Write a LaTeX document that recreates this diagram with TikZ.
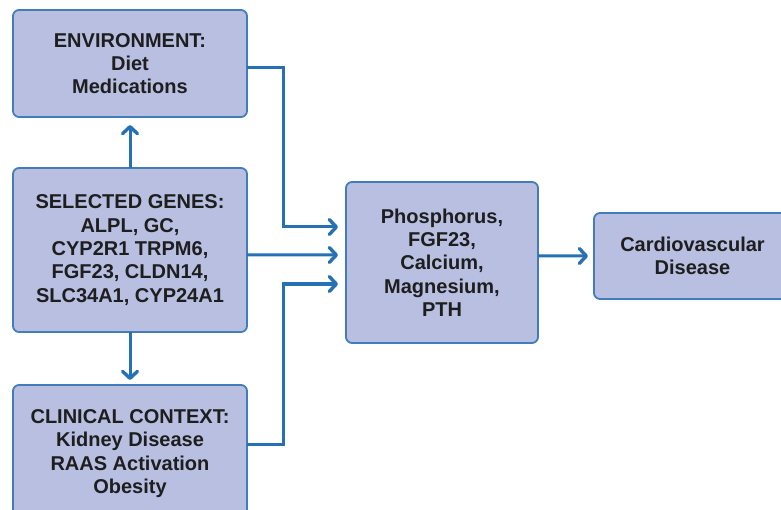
\documentclass[tikz,border=0pt]{standalone}
\usepackage{fontspec}
\setmainfont{Liberation Sans}
\usetikzlibrary{arrows.meta}
\definecolor{boxfill}{RGB}{184,191,225}
\definecolor{boxline}{RGB}{66,125,186}
\definecolor{arrowc}{RGB}{38,112,180}
\definecolor{txt}{RGB}{30,30,30}
\tikzset{
  box/.style={draw=boxline, line width=1.8bp, fill=boxfill, rounded corners=6bp,
    inner sep=0pt, outer sep=0pt, align=center, text=txt,
    font=\bfseries\fontsize{20bp}{23.3bp}\selectfont},
  conn/.style={draw=arrowc, line width=3bp},
  arr/.style={conn, -{Straight Barb[length=7bp,width=15bp,round,line width=3.4bp]}}
}
\begin{document}
\begin{tikzpicture}[x=1bp,y=-1bp]
\useasboundingbox (0,0) rectangle (781,510);
\clip (0,0) rectangle (781,510);
\node[box, minimum width=234bp, minimum height=107bp] (env) at (130,63.5) {ENVIRONMENT:\\Diet\\Medications};
\node[box, minimum width=234bp, minimum height=164bp] (genes) at (130,250) {SELECTED GENES:\\ALPL, GC,\\CYP2R1 TRPM6,\\FGF23, CLDN14,\\SLC34A1, CYP24A1};
\node[box, minimum width=234bp, minimum height=137bp] (clin) at (130,453.5) {CLINICAL CONTEXT:\\Kidney Disease\\RAAS Activation\\Obesity};
\node[box, minimum width=192bp, minimum height=161bp] (mid) at (442,262.5) {Phosphorus,\\FGF23,\\Calcium,\\Magnesium,\\PTH};
\node[box, minimum width=197bp, minimum height=86bp] (cvd) at (692.5,256) {Cardiovascular\\Disease};
\coordinate (tA) at (338,227);
\coordinate (tC) at (338,284);
\draw[arr] (genes.north) -- ([yshift=-8bp]env.south);
\draw[arr] (genes.south) -- ([yshift=5bp]clin.north);
\draw[arr] ([yshift=-4.5bp]env.east) -| (283,227) -- (tA);
\draw[arr] ([yshift=-5bp]genes.east) -- ([xshift=-8bp,yshift=7.5bp]mid.west);
\draw[arr] ([yshift=9.5bp]clin.east) -| (283,284) -- (tC);
\draw[arr] ([yshift=6.5bp]mid.east) -- ([xshift=-6bp,yshift=0bp]cvd.west);
\end{tikzpicture}
\end{document}
